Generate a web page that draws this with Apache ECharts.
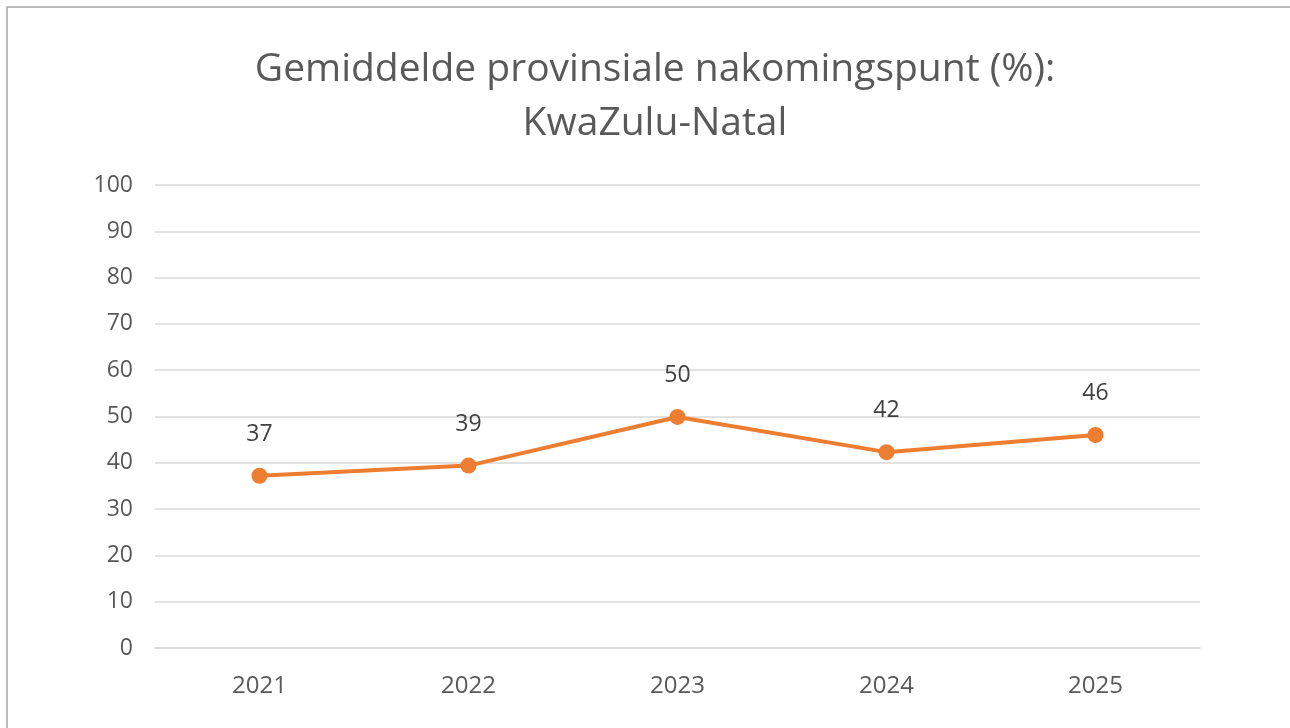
<!DOCTYPE html>
<html>
<head>
<meta charset="utf-8">
<script src="https://cdn.jsdelivr.net/npm/echarts@6/dist/echarts.min.js"></script>
<style>
html,body{margin:0;padding:0;background:#fff;}
#chart{width:1290px;height:728px;}
</style>
</head>
<body>
<div id="chart"></div>
<script>
const titleText = 'Gemiddelde provinsiale nakomingspunt (%):\nKwaZulu-Natal';
const categories = ['2021', '2022', '2023', '2024', '2025'];
const values = [37.2, 39.4, 49.9, 42.3, 46.0];
const yTicks = [0, 10, 20, 30, 40, 50, 60, 70, 80, 90, 100];

const chart = echarts.init(document.getElementById('chart'));
const FONT = '"Open Sans", "Noto Sans", sans-serif';
chart.setOption({
  backgroundColor: '#ffffff',
  animation: false,
  graphic: [{
    type: 'rect',
    shape: { x: 7, y: 7, width: 1300, height: 800 },
    style: { fill: 'none', stroke: '#a6a6a6', lineWidth: 1.5 },
    silent: true
  }],
  title: {
    text: titleText,
    left: 650,
    textAlign: 'center',
    top: 38,
    textStyle: { fontFamily: FONT, fontSize: 39, fontWeight: 'normal', color: '#595959', lineHeight: 54 }
  },
  grid: { left: 155, right: 90, top: 185, bottom: 80 },
  xAxis: {
    type: 'category',
    data: categories,
    boundaryGap: true,
    axisLine: { show: true, lineStyle: { color: '#d9d9d9', width: 1.5 } },
    axisTick: { show: false },
    axisLabel: { fontFamily: FONT, fontSize: 24, color: '#595959', margin: 26 }
  },
  yAxis: {
    type: 'value',
    min: yTicks[0],
    max: yTicks[yTicks.length - 1],
    interval: yTicks[1] - yTicks[0],
    axisLine: { show: false },
    axisTick: { show: false },
    splitLine: { lineStyle: { color: '#d9d9d9', width: 1.5 } },
    axisLabel: { fontFamily: FONT, fontSize: 23, color: '#595959', margin: 22 }
  },
  series: [{
    type: 'line',
    data: values,
    symbol: 'circle',
    symbolSize: 16,
    lineStyle: { color: '#ED7D31', width: 4 },
    itemStyle: { color: '#ED7D31' },
    label: {
      show: true,
      position: 'top',
      distance: 22,
      fontFamily: FONT,
      fontSize: 23,
      color: '#404040',
      formatter: p => Math.round(p.value)
    }
  }]
});
</script>
</body>
</html>
